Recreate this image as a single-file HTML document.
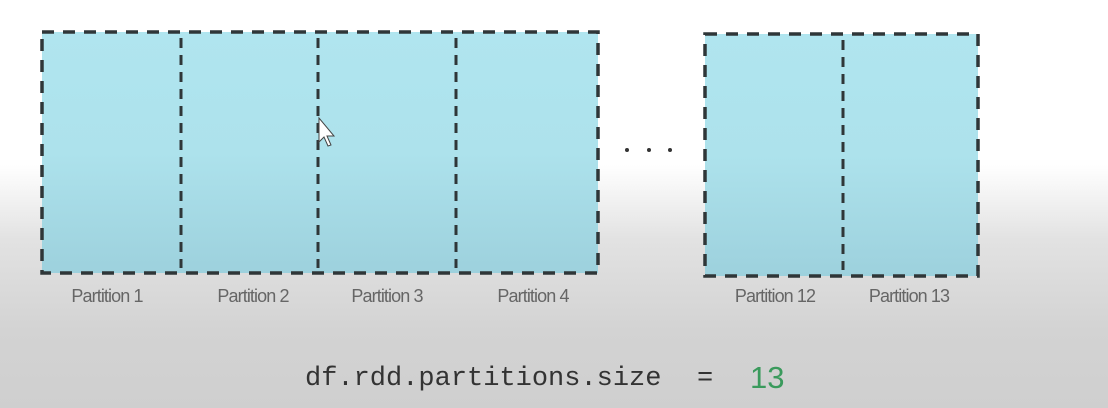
<!DOCTYPE html>
<html><head><meta charset="utf-8"><style>
body{margin:0;width:1108px;height:408px;overflow:hidden;background:linear-gradient(#fff 0,#fff 165px,#e2e2e2 240px,#d3d3d3 330px,#cfcfcf 408px);font-family:"Liberation Sans",sans-serif;position:relative}
.lbl{position:absolute;top:286px;font-size:18px;color:#666;letter-spacing:-0.9px;text-align:center;width:160px}
</style></head><body>
<svg width="1108" height="408" style="position:absolute;left:0;top:0">
<defs><linearGradient id="g" x1="0" y1="0" x2="0" y2="1"><stop offset="0" stop-color="#b0e5ef"/><stop offset="0.5" stop-color="#ade2ec"/><stop offset="1" stop-color="#9dd1dd"/></linearGradient></defs>
<g fill="url(#g)">
<rect x="42" y="32" width="556" height="241"/>
<rect x="705" y="34" width="273" height="242"/>
</g>
<g stroke="#2f3638" stroke-width="3.5" stroke-dasharray="12 9" fill="none">
<rect x="42" y="32" width="556" height="241"/>
<rect x="705" y="34" width="273" height="242"/>
</g>
<g stroke="#2f3638" stroke-width="3" stroke-dasharray="10 7">
<line x1="181" y1="38" x2="181" y2="268"/>
<line x1="318" y1="38" x2="318" y2="268"/>
<line x1="456" y1="38" x2="456" y2="268"/>
<line x1="843" y1="40" x2="843" y2="270"/>
</g>
<g fill="#333"><circle cx="627" cy="150" r="2"/><circle cx="649" cy="150" r="2"/><circle cx="670" cy="150" r="2"/></g>
<path d="M319 118 L319 142 L324 137 L328 146 L331 145 L327 136 L334 136 Z" fill="#fff" stroke="#444" stroke-width="1"/>
</svg>
<div class="lbl" style="left:27px">Partition 1</div>
<div class="lbl" style="left:173px">Partition 2</div>
<div class="lbl" style="left:307px">Partition 3</div>
<div class="lbl" style="left:453px">Partition 4</div>
<div class="lbl" style="left:695px">Partition 12</div>
<div class="lbl" style="left:829px">Partition 13</div>
<div style="position:absolute;left:305px;top:364px;font-family:'Liberation Mono',monospace;font-size:27px;color:#333;white-space:pre">df.rdd.partitions.size</div>
<div style="position:absolute;left:697px;top:364px;font-family:'Liberation Mono',monospace;font-size:27px;color:#333">=</div>
<div style="position:absolute;left:750px;top:360px;font-size:31px;color:#3a9a5c">13</div>
</body></html>
